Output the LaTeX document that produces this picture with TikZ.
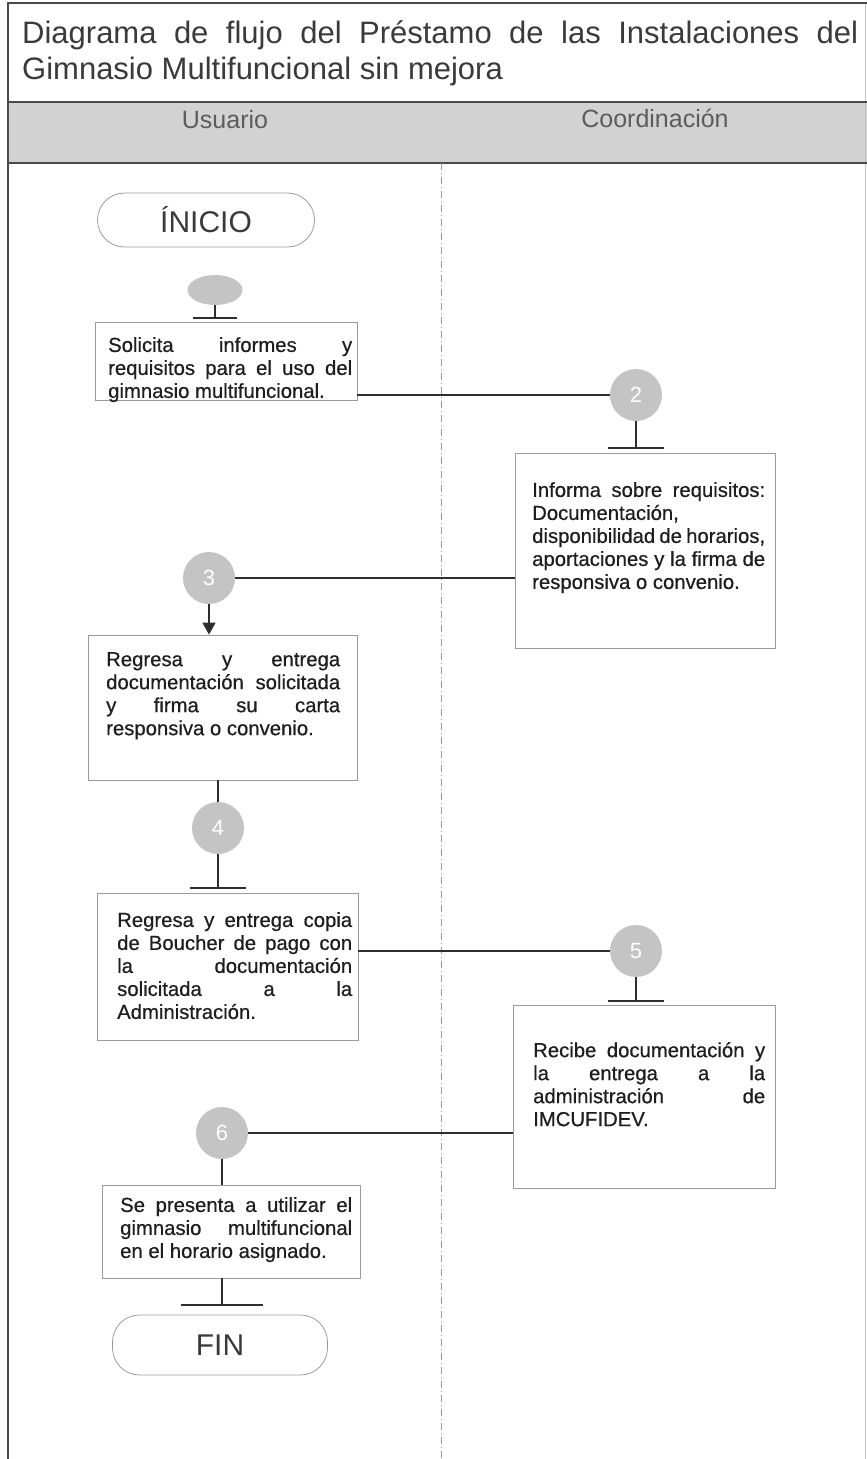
\documentclass[tikz,border=0pt]{standalone}
\usepackage{fontspec}
\setmainfont{Liberation Sans}
\newfontfamily\boxfont[FakeBold=0.6]{Liberation Sans}
\usetikzlibrary{shapes.geometric,arrows.meta,calc}
\definecolor{frame}{HTML}{4A4A4A}
\definecolor{hdr}{HTML}{D2D2D2}
\definecolor{boxline}{HTML}{9A9A9A}
\definecolor{circ}{HTML}{C4C4C4}
\definecolor{conn}{HTML}{2E2E2E}
\definecolor{txt}{HTML}{1E1E1E}
\definecolor{ttl}{HTML}{3A3A3A}
\newcommand{\jl}[2]{\makebox[#1][s]{#2}}
\begin{document}
\begin{tikzpicture}[x=1pt,y=-1pt,
  stepbox/.style={draw=boxline, line width=0.8pt, rectangle, inner sep=0pt},
  boxtext/.style={anchor=north west, inner sep=0pt, align=left, text=txt,
    font=\boxfont\fontsize{20.3}{23}\selectfont},
  num/.style={circle, fill=circ, minimum size=52pt, inner sep=0pt, text=white,
    font=\fontsize{22}{26}\selectfont},
  term/.style={draw=boxline, line width=0.8pt, rectangle, rounded corners=27pt,
    inner sep=0pt, text=ttl, font=\fontsize{30}{32}\selectfont},
  conn/.style={draw=conn, line width=1.3pt},
  bar/.style={draw=conn, line width=1.3pt}
]
\useasboundingbox (0,0) rectangle (867,1459);

% frame and header
\fill[hdr] (8,102) rectangle (867,163);
\draw[boxline!60, line width=0.8pt] (865,3) -- (865,1459);
\draw[frame, line width=1.5pt] (867,3) -- (8,3) -- (8,1459);
\draw[frame, line width=1.5pt] (8,102) -- (867,102);
\draw[frame, line width=1.5pt] (8,163) -- (867,163);
\draw[boxline, line width=0.8pt, dash pattern=on 7pt off 3pt on 1pt off 3pt] (441,163) -- (441,1459);

\node[anchor=north west, inner sep=0pt, align=left, text=ttl,
  font=\fontsize{31}{36}\selectfont] (title) at (22,20)
  {\jl{836pt}{Diagrama de flujo del Préstamo de las Instalaciones del}\\Gimnasio Multifuncional sin mejora};
\node[text=frame!90, font=\fontsize{25}{28}\selectfont] (lane1) at (225,120) {Usuario};
\node[text=frame!90, font=\fontsize{25}{28}\selectfont] (lane2) at (655,118) {Coordinación};

% terminals
\node[term, minimum width=217pt, minimum height=54pt] (inicio) at (206,220) {ÍNICIO};
\node[term, minimum width=215pt, minimum height=60pt] (fin) at (220,1345) {FIN};

% boxes
\node[stepbox, minimum width=262pt, minimum height=78pt] (b1) at (226,361) {};
\node[stepbox, minimum width=260pt, minimum height=195pt] (b2) at (645,550.5) {};
\node[stepbox, minimum width=269pt, minimum height=145pt] (b3) at (222.5,707.5) {};
\node[stepbox, minimum width=261pt, minimum height=147pt] (b4) at (227.5,966.5) {};
\node[stepbox, minimum width=262pt, minimum height=183pt] (b5) at (644,1096.5) {};
\node[stepbox, minimum width=258pt, minimum height=93pt] (b6) at (231,1231.5) {};

% texts
\node[boxtext] (t1) at (108,337) {\jl{244pt}{Solicita informes y}\\\jl{244pt}{requisitos para el uso del}\\gimnasio multifuncional.};
\node[boxtext] (t2) at (532,482) {\jl{233pt}{Informa sobre requisitos:}\\Documentación,\\\jl{233pt}{disponibilidad de horarios,}\\\jl{233pt}{aportaciones y la firma de}\\responsiva o convenio.};
\node[boxtext] (t3) at (106,652) {\jl{234pt}{Regresa y entrega}\\\jl{234pt}{documentación solicitada}\\\jl{234pt}{y firma su carta}\\responsiva o convenio.};
\node[boxtext] (t4) at (117,912) {\jl{235pt}{Regresa y entrega copia}\\\jl{235pt}{de Boucher de pago con}\\\jl{235pt}{la documentación}\\\jl{235pt}{solicitada a la}\\Administración.};
\node[boxtext] (t5) at (533,1042) {\jl{232pt}{Recibe documentación y}\\\jl{232pt}{la entrega a la}\\\jl{232pt}{administración de}\\IMCUFIDEV.};
\node[boxtext] (t6) at (120,1197) {\jl{232pt}{Se presenta a utilizar el}\\\jl{232pt}{gimnasio multifuncional}\\en el horario asignado.};

% connectors circles
\node[ellipse, fill=circ, minimum width=55pt, minimum height=30pt, inner sep=0pt] (c1) at (215,290) {};
\node[num] (c2) at (636,395) {2};
\node[num] (c3) at (209,578) {3};
\node[num] (c4) at (218,828) {4};
\node[num] (c5) at (636,951) {5};
\node[num] (c6) at (222,1133) {6};

% T-bar coordinates
\coordinate (k1) at (215,318);
\coordinate (k2) at (636,448);
\coordinate (k4) at (218,888);
\coordinate (k5) at (636,1001);
\coordinate (k6) at (222,1305);

% flows
\draw[conn] (c1.south) -- (k1);
\draw[bar] ([xshift=-22pt]k1) -- ([xshift=22pt]k1);

\draw[conn] (b1.east |- c2.west) -- (c2.west);
\draw[conn] (c2.south) -- (k2);
\draw[bar] ([xshift=-28pt]k2) -- ([xshift=28pt]k2);

\draw[conn] (b2.west |- c3.east) -- (c3.east);
\draw[conn, -{Triangle[length=12pt, width=13pt]}] (c3.south) -- (c3.south |- b3.north);

\draw[conn] (c4.north |- b3.south) -- (c4.north);
\draw[conn] (c4.south) -- (k4);
\draw[bar] ([xshift=-28pt]k4) -- ([xshift=28pt]k4);

\draw[conn] (b4.east |- c5.west) -- (c5.west);
\draw[conn] (c5.south) -- (k5);
\draw[bar] ([xshift=-28pt]k5) -- ([xshift=28pt]k5);

\draw[conn] (b5.west |- c6.east) -- (c6.east);
\draw[conn] (c6.south) -- (c6.south |- b6.north);

\draw[conn] (k6 |- b6.south) -- (k6);
\draw[bar] ([xshift=-41pt]k6) -- ([xshift=41pt]k6);
\end{tikzpicture}
\end{document}
